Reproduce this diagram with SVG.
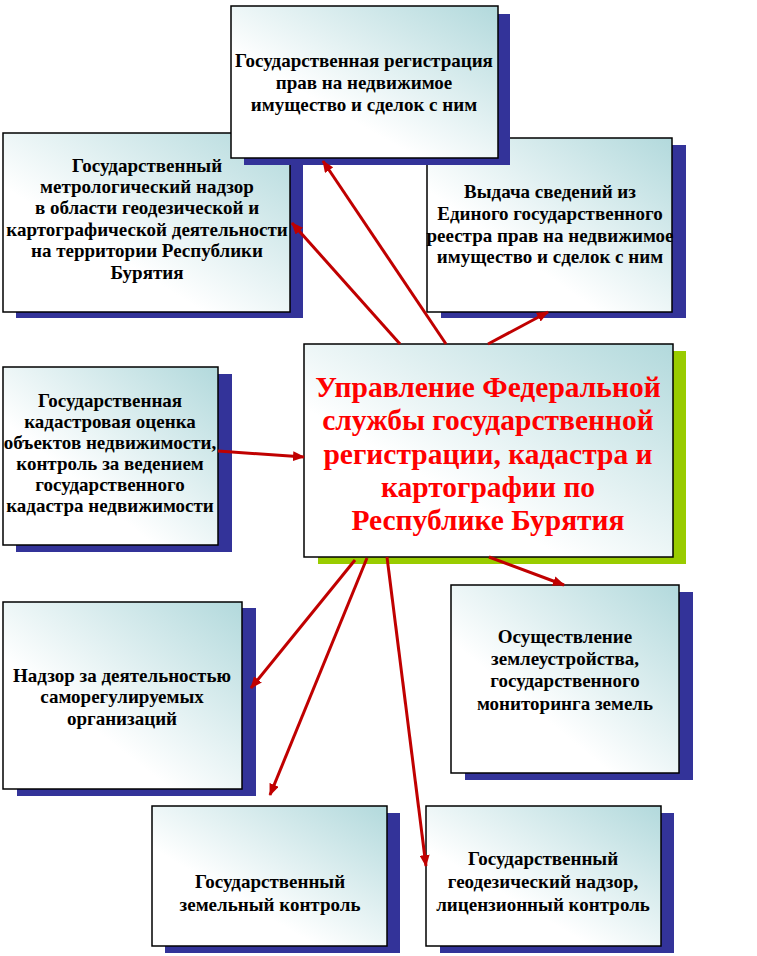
<svg xmlns="http://www.w3.org/2000/svg" width="757" height="956" viewBox="0 0 757 956">
<style>
.box{fill:url(#g);stroke:#000;stroke-width:1.5}
.sh{fill:#333399}
.a{stroke:#c00000;stroke-width:3;fill:none;marker-end:url(#ah)}
</style>
<defs>
<linearGradient id="g" x1="0" y1="1" x2="1" y2="0">
<stop offset="0" stop-color="#ffffff"/>
<stop offset="0.35" stop-color="#ffffff"/>
<stop offset="1" stop-color="#b2d9dc"/>
</linearGradient>
<marker id="ah" viewBox="0 0 12 10" refX="11" refY="5" markerWidth="12" markerHeight="10" markerUnits="userSpaceOnUse" orient="auto">
<path d="M0,0 L12,5 L0,10 z" fill="#c00000"/>
</marker>
</defs>
<rect width="757" height="956" fill="#fff"/>

<g font-family="'Liberation Serif', 'Times New Roman', serif" font-weight="bold" font-size="19" text-anchor="middle" fill="#000">
<g id="n2">
<rect class="sh" x="16" y="140" width="287" height="178"/>
<rect class="box" x="3" y="133" width="287" height="179"/>
<text x="147" y="172">Государственный</text>
<text x="147" y="193">метрологический надзор</text>
<text x="147" y="214">в области геодезической и</text>
<text x="147" y="236">картографической деятельности</text>
<text x="147" y="257">на территории Республики</text>
<text x="147" y="279">Бурятия</text>
</g>

<g id="n3">
<rect class="sh" x="441" y="145" width="245" height="173"/>
<rect class="box" x="427" y="138" width="245" height="174"/>
<text x="550" y="198">Выдача сведений из</text>
<text x="550" y="220">Единого государственного</text>
<text x="550" y="242">реестра прав на недвижимое</text>
<text x="550" y="263">имущество и сделок с ним</text>
</g>

<g id="n1">
<rect class="sh" x="244" y="14" width="266" height="151"/>
<rect class="box" x="231" y="6" width="267" height="152"/>
<text x="364" y="67">Государственная регистрация</text>
<text x="364" y="89">прав на недвижимое</text>
<text x="364" y="111">имущество и сделок с ним</text>
</g>

<g id="center">
<rect x="318" y="351" width="368" height="213" fill="#99cc00"/>
<rect class="box" x="304" y="344" width="369" height="213"/>
<g font-size="29.5" fill="#ff0000">
<text x="488" y="397">Управление Федеральной</text>
<text x="488" y="430">службы государственной</text>
<text x="488" y="464">регистрации, кадастра и</text>
<text x="488" y="497">картографии по</text>
<text x="488" y="530">Республике Бурятия</text>
</g>
</g>

<g id="n5">
<rect class="sh" x="16" y="374" width="216" height="178"/>
<rect class="box" x="3" y="367" width="215" height="178"/>
<text x="110" y="407">Государственная</text>
<text x="110" y="428">кадастровая оценка</text>
<text x="110" y="449">объектов недвижимости,</text>
<text x="110" y="470">контроль за ведением</text>
<text x="110" y="491">государственного</text>
<text x="110" y="512">кадастра недвижимости</text>
</g>

<g id="n6">
<rect class="sh" x="17" y="608" width="239" height="188"/>
<rect class="box" x="3" y="602" width="239" height="187"/>
<text x="122" y="682">Надзор за деятельностью</text>
<text x="122" y="703">саморегулируемых</text>
<text x="122" y="725">организаций</text>
</g>

<g id="n7">
<rect class="sh" x="465" y="592" width="228" height="188"/>
<rect class="box" x="451" y="585" width="228" height="188"/>
<text x="565" y="643">Осуществление</text>
<text x="565" y="665">землеустройства,</text>
<text x="565" y="687">государственного</text>
<text x="565" y="710">мониторинга земель</text>
</g>

<g id="n8">
<rect class="sh" x="165" y="813" width="235" height="140"/>
<rect class="box" x="152" y="806" width="235" height="140"/>
<text x="270" y="888">Государственный</text>
<text x="270" y="911">земельный контроль</text>
</g>

<g id="n9">
<rect class="sh" x="440" y="813" width="234" height="140"/>
<rect class="box" x="426" y="806" width="235" height="140"/>
<text x="543" y="865">Государственный</text>
<text x="543" y="888">геодезический надзор,</text>
<text x="543" y="911">лицензионный контроль</text>
</g>
</g>

<g id="connectors">
<line class="a" x1="400" y1="344" x2="292" y2="223"/>
<line class="a" x1="446" y1="344" x2="323" y2="161"/>
<line class="a" x1="488" y1="344" x2="548" y2="312"/>
<line class="a" x1="218" y1="451" x2="304" y2="457"/>
<line class="a" x1="489" y1="557" x2="564" y2="585"/>
<line class="a" x1="355" y1="560" x2="251" y2="688"/>
<line class="a" x1="367" y1="558" x2="270" y2="795"/>
<line class="a" x1="387" y1="557" x2="426" y2="866"/>
</g>
</svg>
